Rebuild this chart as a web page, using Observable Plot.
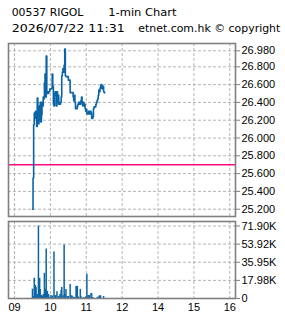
<!DOCTYPE html>
<html><head><meta charset="utf-8">
<script src="https://cdn.jsdelivr.net/npm/d3@7"></script>
<script src="https://cdn.jsdelivr.net/npm/@observablehq/plot@0.6"></script>
<style>
body{margin:0;background:#fff;}
#wrap{position:relative;width:285px;height:318px;overflow:hidden;background:#fff;}
#wrap svg{position:absolute;left:0;top:0;}
</style></head><body><div id="wrap"></div>
<script>
// ---- header text ----
const symbolText = "00537 RIGOL";
const chartTypeText = "1-min Chart";
const stampText = "2026/07/22 11:31";
const sourceText = "etnet.com.hk © copyright";

// ---- price series: one close per minute starting 09:30 ----
const startHour = 9, startMinute = 30;
const prices = [
  25.20,25.55,26.15,26.28,26.22,26.30,26.27,26.13,26.45,26.28,
  26.16,26.36,26.20,26.40,26.18,26.26,26.40,26.36,26.46,26.44,
  26.62,26.72,26.46,26.92,26.50,26.52,26.50,26.52,26.52,26.55,
  26.55,26.55,26.56,26.72,26.58,26.38,26.36,26.50,26.52,26.48,
  26.36,26.52,26.40,26.48,26.38,26.40,26.38,26.40,26.46,26.70,
  26.74,26.78,26.74,26.82,27.00,26.70,26.69,26.69,26.69,26.69,
  26.65,26.65,26.65,26.51,26.51,26.51,26.51,26.51,26.46,26.42,
  26.48,26.40,26.33,26.33,26.33,26.36,26.38,26.40,26.38,26.40,
  26.38,26.42,26.46,26.40,26.36,26.40,26.36,26.38,26.33,26.30,
  26.32,26.27,26.28,26.27,26.30,26.30,26.27,26.30,26.28,26.22,
  26.22,26.24,26.33,26.35,26.35,26.35,26.38,26.40,26.42,26.44,
  26.48,26.54,26.52,26.56,26.59,26.60,26.56,26.55,26.58,26.52,
  26.51,26.51
];
const prevClose = 25.70;
const priceTicks = [25.2,25.4,25.6,25.8,26.0,26.2,26.4,26.6,26.8,26.98];

// ---- volume bars ----
const volTimes = ["09:30","09:31","09:33","09:35","09:36","09:38","09:40","09:42","09:43","09:45",
  "09:47","09:48","09:50","09:52","09:53","09:55","09:57","09:58","10:01","10:03",
  "10:04","10:06","10:08","10:09","10:11","10:13","10:14","10:16","10:18","10:19",
  "10:21","10:23","10:24","10:26","10:28","10:30","10:33","10:34","10:36","10:38",
  "10:40","10:43","10:44","10:45","10:47","10:50","10:52","10:56","10:59","11:01",
  "11:03","11:05","11:08","11:09","11:11","11:18","11:20","11:22","11:24","11:29"];
const volumes = [9300,2000,20000,13000,11000,4000,71900,20000,9000,3000,
  2000,4000,25000,9000,49000,7000,4000,1000,3000,2500,
  700,46000,2700,2700,6700,1000,2000,4000,8000,11000,
  2700,53000,4000,9000,2000,2000,14000,3000,2500,1500,
  1000,12000,12000,12000,1500,9000,1500,1000,1500,24000,
  3000,3000,5000,5000,1000,700,1500,2700,2700,2000];
const volTicks = [0,17975,35950,53925,71900];
const volTickLabels = ["0","17.98K","35.95K","53.92K","71.90K"];

// ---- time axis (lunch break 12:00-13:00 removed) ----
const hourTicks = [9,10,11,12,14,15,16];
const hourLabels = ["09","10","11","12","14","15","16"];

const pos = (h, m) => { let t = h + m / 60 - 9; if (h >= 13) t -= 1; return t; };
const parseT = s => { const [h, m] = s.split(":").map(Number); return pos(h, m); };

const priceData = prices.map((p, i) => {
  const tot = startMinute + i;
  return {t: pos(startHour + Math.floor(tot / 60), tot % 60), p};
});
const volData = volTimes.map((s, i) => ({t: parseT(s), v: volumes[i]}));
const hourPos = hourTicks.map(h => pos(h, 0));

const BLUE = "#0b64a5", GRID = "#b4b4b4", FRAME = "#808080";
const xDomain = [-0.1675, 6.159];
const common = {
  width: 285, marginLeft: 8, marginRight: 50,
  x: {domain: xDomain, axis: null},
  style: {background: "transparent", fontFamily: "Liberation Sans, Arial, sans-serif", fontSize: "11px", color: "#000", overflow: "visible"}
};

const wrap = document.getElementById("wrap");

// header
const ns = "http://www.w3.org/2000/svg";
const hdr = document.createElementNS(ns, "svg");
hdr.setAttribute("width", 285); hdr.setAttribute("height", 40);
[[symbolText, 11.7, 16, 71.7], [chartTypeText, 108.3, 16, 68.3],
 [stampText, 11.7, 32, 113], [sourceText, 138.3, 32, 142]].forEach(([s, x, y, w]) => {
  const t = document.createElementNS(ns, "text");
  t.setAttribute("x", x); t.setAttribute("y", y);
  t.setAttribute("textLength", w); t.setAttribute("lengthAdjust", "spacingAndGlyphs");
  t.setAttribute("font-family", "DejaVu Sans, sans-serif"); t.setAttribute("font-size", "11");
  t.setAttribute("fill", "#000");
  t.textContent = s;
  hdr.appendChild(t);
});
wrap.appendChild(hdr);

// price panel
const pricePlot = Plot.plot({
  ...common,
  height: 218, marginTop: 43, marginBottom: 2,
  y: {domain: [25.118, 27.062], axis: null},
  marks: [
    Plot.gridY(priceTicks, {stroke: GRID, strokeOpacity: 1, strokeDasharray: "3,2"}),
    Plot.gridX(hourPos, {stroke: GRID, strokeOpacity: 1, strokeDasharray: "3,2"}),
    Plot.ruleY([prevClose], {stroke: "#ff0a84", strokeWidth: 1.5}),
    Plot.line(priceData, {x: "t", y: "p", curve: "step-after", stroke: BLUE, strokeWidth: 1.6}),
    Plot.axisY(priceTicks, {anchor: "right", tickFormat: d3.format(".3f"), tickSize: 4, tickPadding: 2, stroke: FRAME, label: null}),
    Plot.frame({stroke: FRAME, strokeWidth: 1.6})
  ]
});
wrap.appendChild(pricePlot);

// volume panel
const volPlot = Plot.plot({
  ...common,
  height: 318, marginTop: 221, marginBottom: 20,
  y: {domain: [0, 76360], axis: null},
  marks: [
    Plot.gridY(volTicks.slice(1), {stroke: GRID, strokeOpacity: 1, strokeDasharray: "3,2"}),
    Plot.gridX(hourPos, {stroke: GRID, strokeOpacity: 1, strokeDasharray: "3,2"}),
    Plot.ruleX(volData, {x: "t", y1: 0, y2: "v", stroke: BLUE, strokeWidth: 1.5}),
    Plot.axisY(volTicks, {anchor: "right", tickFormat: (d, i) => volTickLabels[i], tickSize: 4, tickPadding: 2, stroke: FRAME, label: null}),
    Plot.axisX(hourPos, {anchor: "bottom", tickFormat: (d, i) => hourLabels[i], tickSize: 0, tickPadding: 5, label: null}),
    Plot.frame({stroke: FRAME, strokeWidth: 1.6})
  ]
});
wrap.appendChild(volPlot);
</script>
</body></html>
